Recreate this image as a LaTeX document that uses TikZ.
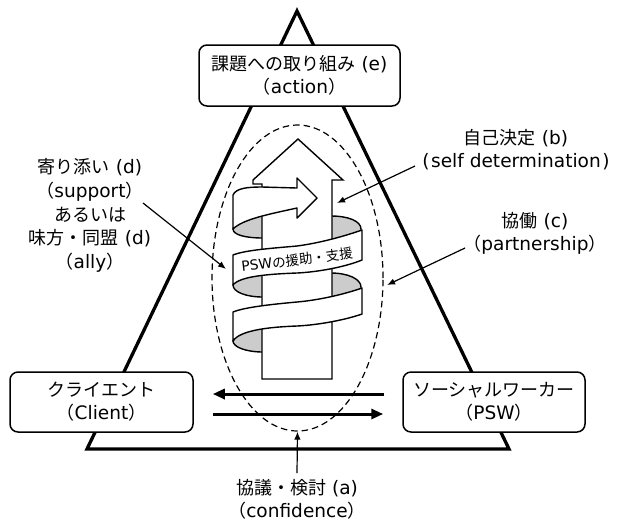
\documentclass[tikz,border=0pt]{standalone}
\usepackage{fontspec}
\newfontfamily\jp{Noto Sans CJK JP}
\newfontfamily\latfont[Scale=1.03]{DejaVu Sans}
\newcommand\lt[1]{{\latfont #1}}
\usetikzlibrary{arrows.meta,shapes.geometric}
\tikzset{
  box/.style={draw, line width=1.5pt, rounded corners=8pt, fill=white, align=center,
    font=\jp\fontsize{18}{23}\selectfont, inner sep=0pt},
  lbl/.style={align=center, font=\jp\fontsize{18}{23}\selectfont, inner sep=0pt},
  thinarrow/.style={line width=1.2pt, -{Latex[length=8pt,width=6.5pt]}},
  thickarrow/.style={line width=3pt, -{Triangle[length=12pt,width=10pt]}},
  ribbon/.style={draw, line width=1.4pt, fill=white, line join=round},
  backside/.style={draw, line width=1.4pt, fill=black!20, line join=round},
  tri/.style={line width=3.3pt, line join=miter},
}
\begin{document}
\begin{tikzpicture}[x=1pt,y=-1pt]
\useasboundingbox (0,0) rectangle (617,523);
% triangle
\draw[tri] (297,11) -- (509,449) -- (87,449) -- cycle;
% dashed ellipse
\node[draw, ellipse, dashed, dash pattern=on 6.5pt off 4pt, line width=1.2pt,
  minimum width=171pt, minimum height=306pt, inner sep=0pt] (ell) at (297.5,278) {};
% back (grey) sides of the ribbon
\draw[backside] (233,229) .. controls (233,235) and (246,238) .. (263,238) -- (300,238) -- (332,245) -- (361,245) -- (361,229)
  .. controls (361,221) and (348,216) .. (331,216) -- (300,212) -- (262,205) -- (240,212) -- cycle;
\draw[backside] (233,285) .. controls (233,292) and (246,297) .. (263,297) -- (332,305) -- (361,303) -- (361,287)
  .. controls (361,279) and (348,273) .. (331,273) -- (262,262) -- (240,270) -- cycle;
\draw[backside] (233,341) .. controls (233,347) and (246,352) .. (263,352) -- (280,352) -- (280,320) -- (262,320) -- (240,328) -- cycle;
% big upward arrow
\draw[line width=1.4pt, fill=white, line join=miter] (298,139) -- (343,180) -- (332,180) -- (332,379) -- (262,379)
  -- (262,184) -- (253,184) -- (253,180) -- cycle;
% front bands
\draw[ribbon] (233,229) -- (233,195) .. controls (236,188) and (248,187) .. (262,187) -- (297,188) -- (297,178)
  -- (317,198) -- (297,218) -- (297,208) .. controls (270,214) and (243,219) .. (233,229) -- cycle;
\draw[ribbon] (233,255) .. controls (245,250) and (275,248) .. (297,246) .. controls (320,243) and (345,236) .. (362,230)
  -- (362,260) .. controls (345,267) and (318,272) .. (297,273) .. controls (270,274) and (240,276) .. (233,285) -- cycle;
\draw[ribbon] (233,312) .. controls (245,307) and (275,304) .. (297,302) .. controls (320,300) and (345,294) .. (362,288)
  -- (362,314) .. controls (345,320) and (318,325) .. (297,326) .. controls (270,327) and (240,330) .. (233,341) -- cycle;
\node[rotate=7, font=\jp\fontsize{13.5}{14}\selectfont, inner sep=0pt] (bandtext) at (297,260) {\lt{PSW}の援助・支援};
% boxes
\node[box, minimum width=201pt, minimum height=61pt] (task) at (299.5,75.5) {課題への取り組み\lt{ (e)}\\（\lt{action}）};
\node[box, minimum width=183pt, minimum height=60pt] (client) at (101.5,402) {クライエント\\（\lt{Client}）};
\node[box, minimum width=182pt, minimum height=60pt] (psw) at (494,402) {ソーシャルワーカー\\（\lt{PSW}）};
% thick arrows between client and PSW
\draw[thickarrow, shorten <=18pt, shorten >=19pt] ([yshift=8pt]psw.west) -- ([yshift=8pt]client.east);
\draw[thickarrow, shorten <=19pt, shorten >=19pt] ([yshift=-12pt]client.east) -- ([yshift=-12pt]psw.west);
% labels
\node[lbl] (sd) at (516,150) {自己決定\lt{ (b)}\\\lt{(\kern1.5pt self determination\kern1.5pt)}};
\node[lbl] (pt) at (535,233) {協働\lt{ (c)}\\（\lt{partnership}）};
\node[lbl, font=\jp\fontsize{18}{23.75}\selectfont] (sp) at (90,215.5) {寄り添い\lt{ (d)}\\（\lt{support}）\\あるいは\\味方・同盟\lt{ (d)}\\（\lt{ally}）};
\node[lbl] (cf) at (297,499.5) {協議・検討\lt{ (a)}\\（\lt{confidence}）};
% label arrows
\coordinate (sdfrom) at (415,166);
\coordinate (sdto) at (337,203);
\coordinate (ptfrom) at (465,248);
\coordinate (ptto) at (387,285);
\coordinate (spfrom) at (143,203);
\coordinate (spto) at (226,269);
\coordinate (cffrom) at (297,473);
\draw[thinarrow] (sdfrom) -- (sdto);
\draw[thinarrow] (ptfrom) -- (ptto);
\draw[thinarrow] (spfrom) -- (spto);
\draw[thinarrow] (cffrom) -- (ell.south);
\end{tikzpicture}
\end{document}
